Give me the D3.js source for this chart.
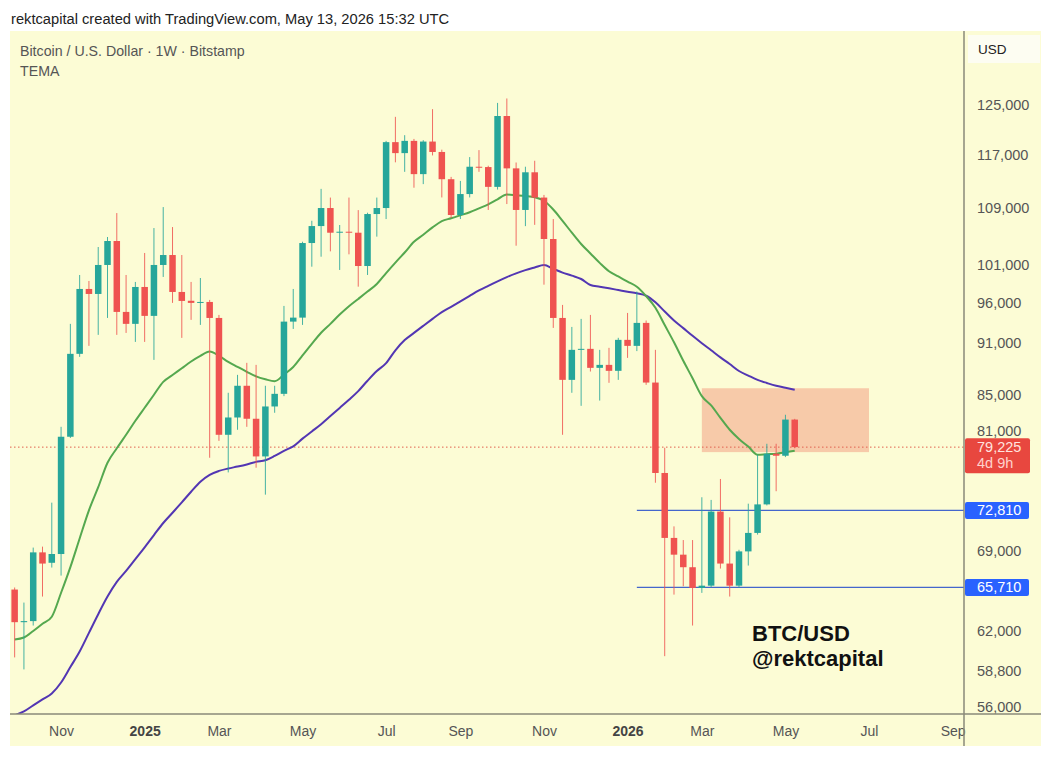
<!DOCTYPE html>
<html>
<head>
<meta charset="utf-8">
<script src="https://cdn.jsdelivr.net/npm/d3@7"></script>
<style>
  html, body { margin: 0; padding: 0; background: #fff; }
  svg { display: block; font-family: 'Liberation Sans', Arial, Helvetica, sans-serif; }
</style>
</head>
<body>
<svg width="1048" height="760"></svg>
<script>
'use strict'

// weekly BTC/USD candles, Bitstamp, Sep 30 2024 -> May 11 2026
const open = [65520, 62730, 62820, 68850, 67900, 68700, 80330, 89720, 97830, 97180,
  101010, 104290, 94880, 93380, 98090, 94380, 101010, 102360, 97440, 96300,
  96030, 96150, 94120, 80540, 82420, 85980, 82280, 78250, 83640, 85060,
  93660, 94160, 104010, 106390, 108980, 105450, 105590, 105450, 100870, 108110,
  108980, 118990, 117260, 119190, 114020, 119080, 117440, 113250, 107970, 111030,
  115150, 115100, 112100, 123210, 114900, 108700, 114300, 110510, 104570, 94120,
  86660, 90200, 90320, 88060, 88410, 87710, 91410, 90680, 93500, 86350,
  76540, 70190, 68640, 67500, 65660, 65860, 72700, 67830, 65860, 68940,
  70660, 73400, 78530, 78320, 82190]
const high = [65700, 64390, 69290, 69380, 73570, 81400, 93380, 99670, 98880, 103460,
  104850, 108250, 99670, 98750, 102640, 106110, 109120, 106250, 102360, 98750,
  99270, 96410, 94500, 85180, 87240, 88650, 88410, 85980, 85980, 95640,
  97830, 104190, 107140, 111800, 110510, 106540, 110510, 108680, 108300, 110510,
  119190, 123070, 120100, 119500, 119300, 124340, 117800, 113600, 112990, 116640,
  117730, 115300, 125380, 126120, 115800, 115150, 116070, 110900, 107390, 95770,
  93000, 94000, 94500, 90200, 90440, 91660, 94750, 97500, 93800, 90200,
  79160, 71280, 69990, 69990, 74100, 73840, 75930, 72140, 69090, 73470,
  78430, 79580, 79580, 82720, 82270]
const low = [59850, 58900, 62450, 64910, 67470, 66750, 80200, 89360, 90680, 92020,
  94120, 92020, 92260, 91160, 91160, 89000, 99410, 96030, 91650, 93880,
  93250, 78110, 79890, 76600, 81080, 81400, 77080, 74360, 82940, 84800,
  92750, 93250, 100780, 102130, 102860, 100340, 102450, 98130, 99670, 104900,
  107390, 115830, 114370, 111970, 112510, 116900, 110530, 107530, 107390, 110530,
  114370, 108700, 111700, 109560, 103640, 106380, 106560, 98390, 92880, 80540,
  85180, 83710, 87630, 84300, 86320, 86660, 89240, 90050, 86090, 75550,
  59950, 65080, 65810, 62450, 65230, 65700, 67380, 64910, 65660, 67650,
  70500, 73300, 74700, 78180, 79100]
const close = [62730, 62820, 68850, 67830, 68700, 80330, 89720, 97830, 97180, 101010,
  104290, 94880, 93380, 98090, 94380, 101010, 102360, 97440, 96280, 96030,
  96150, 94120, 80540, 82420, 85980, 82280, 78250, 83640, 85060, 93660,
  94160, 104010, 106390, 108980, 105450, 105590, 105450, 100870, 108110, 108980,
  118990, 117260, 119190, 114020, 119080, 117440, 113250, 107970, 111030, 115150,
  115100, 112100, 123210, 114900, 108700, 114300, 110510, 104570, 94120, 86660,
  90200, 90320, 88060, 88410, 87710, 91410, 90680, 93500, 86350, 76540,
  70190, 68640, 67500, 65660, 65860, 72700, 67830, 65860, 68940, 70660,
  73400, 78530, 78320, 82190, 79225]

// TEMA values per week (green = faster, purple = slower)
const temaFast = [61300, 61460, 62000, 62600, 63190, 65240, 67510, 70140, 72820, 75100,
  77590, 79100, 80540, 82060, 83500, 84960, 86430, 87220, 88010, 88810,
  89480, 89990, 89480, 88770, 88180, 87600, 87070, 86730, 86500, 87280,
  88160, 89530, 90920, 92280, 93380, 94550, 95610, 96540, 97490, 98480,
  99920, 101330, 102700, 104180, 105170, 106200, 107100, 107500, 107930, 108370,
  108940, 109520, 110260, 110960, 110850, 110730, 110550, 110040, 108760, 107130,
  105460, 103880, 102570, 101290, 100160, 99470, 98790, 98110, 96900, 95410,
  93230, 91110, 88890, 86850, 84800, 83760, 82380, 81080, 80090, 79280,
  78420, 78480, 78530, 78690, 78850]
const temaSlow = [55400, 55690, 56140, 56590, 57040, 57880, 59090, 60320, 61840, 63400,
  64910, 66190, 67170, 68240, 69320, 70460, 71600, 72590, 73600, 74650,
  75650, 76350, 76750, 77000, 77200, 77420, 77680, 77850, 78300, 78840,
  79310, 80130, 80900, 81680, 82570, 83480, 84390, 85370, 86560, 87680,
  88620, 90150, 91380, 92260, 93130, 94000, 94860, 95530, 96220, 96930,
  97630, 98240, 98830, 99390, 99890, 100320, 100670, 101000, 100490, 99990,
  99590, 99140, 98340, 98120, 97910, 97690, 97470, 97260, 96950, 96100,
  94930, 93800, 92850, 91900, 91000, 90150, 89300, 88510, 87690, 87160,
  86660, 86300, 85980, 85760, 85530]

const priceTicks = [125000, 117000, 109000, 101000, 96000, 91000, 85000, 81000,
  69000, 62000, 58800, 56000]
const monthTickDates = ['2024-11-04', '2025-01-06', '2025-03-03', '2025-05-05', '2025-07-07', '2025-09-01',
  '2025-11-03', '2026-01-05', '2026-03-02', '2026-05-04', '2026-07-06', '2026-09-07']
const monthTickLabels = ['Nov', '2025', 'Mar', 'May', 'Jul', 'Sep', 'Nov', '2026', 'Mar', 'May', 'Jul', 'Sep']

const lastPrice = 79225
const levelPrices = [72810, 65710]
const levelStart = '2026-01-12'
const zoneDates = ['2026-03-02', '2026-07-06']
const zonePrices = [78700, 85700]

const svg = d3.select('svg')
const parse = d3.utcParse('%Y-%m-%d')
const fmt = d3.format(',')

const plot = { left: 10, right: 964, top: 31, bottom: 714 }
const panel = { left: 10, right: 1041, top: 31, bottom: 746 }

const weeks = d3.utcMonday.range(parse('2024-09-30'), parse('2026-05-12'))
const candles = weeks.map((d, i) => ({ date: d, o: open[i], h: high[i], l: low[i], c: close[i] }))

const dayMs = 864e5
const x = d3.scaleUtc().
  domain([new Date(+weeks[0] - 3.5 * dayMs), new Date(+weeks[weeks.length - 1] + 127.6 * dayMs)]).
  range([plot.left, plot.right])

const y = d3.scaleLog().
  domain([55500, 138000]).
  range([plot.bottom, plot.top])

const up = '#26a69a'
const down = '#ef5350'

// background panel
svg.append('rect').
  attr('x', panel.left).attr('y', panel.top).
  attr('width', panel.right - panel.left).attr('height', panel.bottom - panel.top).
  attr('fill', '#fcfcd5')

svg.append('clipPath').attr('id', 'plotClip').
  append('rect').
  attr('x', plot.left).attr('y', plot.top).
  attr('width', plot.right - plot.left).attr('height', plot.bottom - plot.top)

const g = svg.append('g').attr('clip-path', 'url(#plotClip)')

// resistance zone
g.append('rect').
  attr('x', x(parse(zoneDates[0]))).
  attr('width', x(parse(zoneDates[1])) - x(parse(zoneDates[0]))).
  attr('y', y(zonePrices[1])).
  attr('height', y(zonePrices[0]) - y(zonePrices[1])).
  attr('fill', '#f5b99a').
  attr('opacity', 0.75)

// last price dotted line
g.append('line').
  attr('x1', plot.left).attr('x2', plot.right).
  attr('y1', y(lastPrice)).attr('y2', y(lastPrice)).
  attr('stroke', '#e0604f').
  attr('stroke-width', 1).
  attr('stroke-dasharray', '1.5,2.5')

// support levels
g.selectAll('line.level').
  data(levelPrices).
  enter().
  append('line').
  attr('class', 'level').
  attr('x1', x(parse(levelStart))).attr('x2', plot.right).
  attr('y1', d => y(d)).attr('y2', d => y(d)).
  attr('stroke', '#4466cc').
  attr('stroke-width', 1.2)

// TEMA lines
const line = d3.line().
  x((d, i) => x(weeks[i])).
  y(d => y(d)).
  curve(d3.curveMonotoneX)

g.append('path').
  attr('d', line(temaSlow)).
  attr('fill', 'none').
  attr('stroke', '#5236b3').
  attr('stroke-width', 2)

g.append('path').
  attr('d', line(temaFast)).
  attr('fill', 'none').
  attr('stroke', '#55a84f').
  attr('stroke-width', 2)

// candles
const step = x(weeks[1]) - x(weeks[0])
const bodyW = step * 0.7
const candle = g.selectAll('g.candle').
  data(candles).
  enter().
  append('g').
  attr('class', 'candle')

candle.append('line').
  attr('x1', d => x(d.date)).attr('x2', d => x(d.date)).
  attr('y1', d => y(d.h)).attr('y2', d => y(d.l)).
  attr('stroke', d => d.c >= d.o ? up : down).
  attr('stroke-opacity', 0.85).
  attr('stroke-width', 1)

candle.append('rect').
  attr('x', d => x(d.date) - bodyW / 2).
  attr('width', bodyW).
  attr('y', d => y(Math.max(d.o, d.c))).
  attr('height', d => Math.max(1, Math.abs(y(d.o) - y(d.c)))).
  attr('fill', d => d.c >= d.o ? up : down)

// price axis
const yAxis = d3.axisRight(y).
  tickValues(priceTicks).
  tickFormat(fmt).
  tickSize(0).
  tickPadding(13)

svg.append('g').
  attr('transform', `translate(${plot.right},0)`).
  call(yAxis).
  call(a => a.select('.domain').remove()).
  selectAll('text').
  attr('fill', '#555').
  attr('font-size', 14.5).
  attr('font-family', null)

// time axis
const xAxis = d3.axisBottom(x).
  tickValues(monthTickDates.map(parse)).
  tickFormat((d, i) => monthTickLabels[i]).
  tickSize(0).
  tickPadding(12)

svg.append('g').
  attr('transform', `translate(0,${plot.bottom})`).
  call(xAxis).
  call(a => a.select('.domain').remove()).
  selectAll('text').
  attr('fill', (d, i) => /^\d/.test(monthTickLabels[i]) ? '#444' : '#555').
  attr('font-weight', (d, i) => /^\d/.test(monthTickLabels[i]) ? 'bold' : null).
  attr('font-size', 14).
  attr('font-family', null)

// axis frame lines
svg.append('line').
  attr('x1', panel.left).attr('x2', panel.right).
  attr('y1', plot.bottom).attr('y2', plot.bottom).
  attr('stroke', '#8a8a78').attr('stroke-width', 1.5)
svg.append('line').
  attr('x1', plot.right).attr('x2', plot.right).
  attr('y1', panel.top).attr('y2', panel.bottom).
  attr('stroke', '#8a8a78').attr('stroke-width', 1.5)

// price labels on the axis
const lastLabel = svg.append('g').
  attr('transform', `translate(${plot.right + 1},${y(lastPrice)})`)
lastLabel.append('rect').
  attr('x', 0).attr('y', -9).
  attr('width', 65).attr('height', 35).
  attr('rx', 2).
  attr('fill', '#e8473f')
lastLabel.append('text').
  attr('x', 12).attr('y', 5).
  attr('font-size', 14.5).
  attr('fill', '#ffe3df').
  text(fmt(lastPrice))
lastLabel.append('text').
  attr('x', 12).attr('y', 20.5).
  attr('font-size', 14.5).
  attr('fill', '#ffd2cc').
  text('4d 9h')

const levelLabel = svg.selectAll('g.levelLabel').
  data(levelPrices).
  enter().
  append('g').
  attr('class', 'levelLabel').
  attr('transform', d => `translate(${plot.right + 1},${y(d)})`)
levelLabel.append('rect').
  attr('x', 0).attr('y', -8.5).
  attr('width', 64).attr('height', 17).
  attr('rx', 2).
  attr('fill', '#2962ff')
levelLabel.append('text').
  attr('x', 12).attr('y', 5).
  attr('font-size', 14.5).
  attr('fill', '#fff').
  text(d => fmt(d))

// USD tag
svg.append('rect').
  attr('x', 968).attr('y', 35).
  attr('width', 72).attr('height', 28).
  attr('fill', '#fdfdf2')
svg.append('text').
  attr('x', 978).attr('y', 54).
  attr('font-size', 13.5).
  attr('fill', '#222').
  text('USD')

// legend
svg.append('text').
  attr('x', 20).attr('y', 56).
  attr('font-size', 14.2).
  attr('fill', '#555').
  text('Bitcoin / U.S. Dollar · 1W · Bitstamp')
svg.append('text').
  attr('x', 20).attr('y', 76).
  attr('font-size', 14.2).
  attr('fill', '#555').
  text('TEMA')

// header
svg.append('text').
  attr('x', 11).attr('y', 24).
  attr('font-size', 14.7).
  attr('fill', '#222').
  text('rektcapital created with TradingView.com, May 13, 2026 15:32 UTC')

// watermark
svg.append('text').
  attr('x', 752).attr('y', 641).
  attr('font-size', 22).
  attr('font-weight', 'bold').
  attr('fill', '#111').
  text('BTC/USD')
svg.append('text').
  attr('x', 752).attr('y', 666).
  attr('font-size', 22).
  attr('font-weight', 'bold').
  attr('fill', '#111').
  text('@rektcapital')
</script>
</body>
</html>
